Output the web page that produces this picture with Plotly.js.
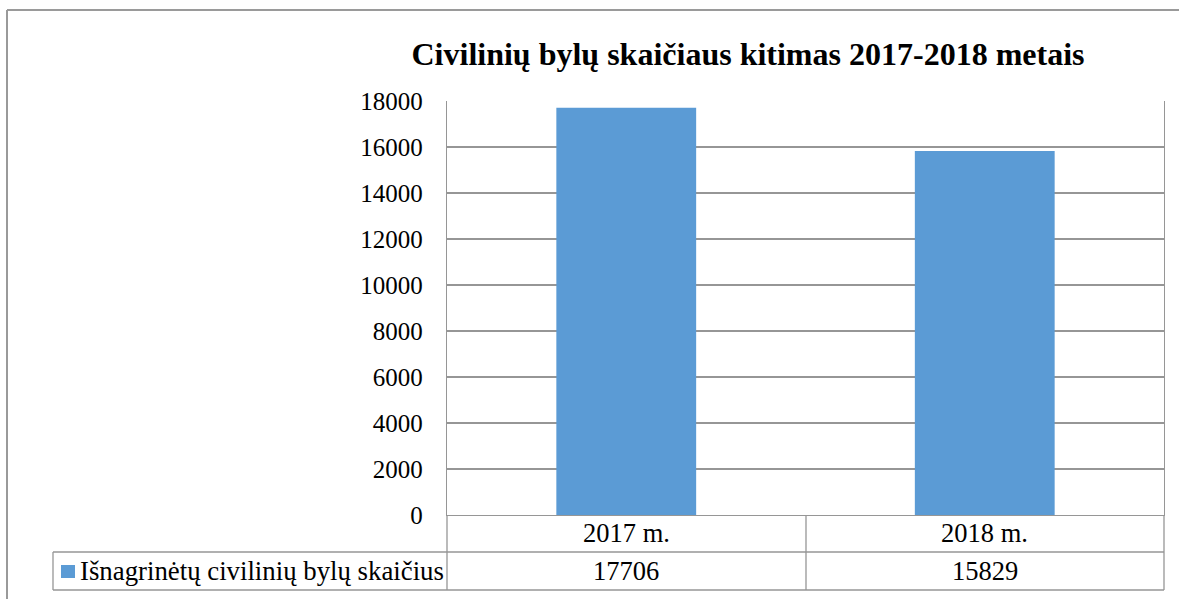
<!DOCTYPE html>
<html>
<head>
<meta charset="utf-8">
<script src="https://cdn.plot.ly/plotly-3.0.1.min.js"></script>
<style>
html,body{margin:0;padding:0;background:#fff;}
#chart{width:1179px;height:599px;}
</style>
</head>
<body>
<div id="chart"></div>
<script>
const categories = ["2017 m.", "2018 m."];
const values = [17706, 15829];
const seriesName = "Išnagrinėtų civilinių bylų skaičius";
const yTicks = [0, 2000, 4000, 6000, 8000, 10000, 12000, 14000, 16000, 18000];

const W = 1179, H = 599;
const L = 447, R = 1164, T = 101, B = 515;
const px = x => (x - L) / (R - L);
const py = y => (B - y) / (B - T);

const lineCol = "#969696";
const barCol = "#5b9bd5";
const serif = "Liberation Serif";

const trace = {
  type: "bar",
  x: categories,
  y: values,
  name: seriesName,
  marker: {color: barCol, line: {width: 0}},
  hoverinfo: "x+y"
};

function hline(y, x0, x1) {
  return {type: "line", xref: "paper", yref: "paper", x0: px(x0), x1: px(x1), y0: py(y), y1: py(y),
    line: {color: lineCol, width: 1.3}, layer: "above"};
}
function vline(x, y0, y1) {
  return {type: "line", xref: "paper", yref: "paper", x0: px(x), x1: px(x), y0: py(y0), y1: py(y1),
    line: {color: lineCol, width: 1.3}, layer: "above"};
}

const shapes = [
  {type: "line", xref: "paper", yref: "paper", x0: px(7), x1: px(1179), y0: py(10), y1: py(10), line: {color: "#9a9a9a", width: 2}},
  {type: "line", xref: "paper", yref: "paper", x0: px(7), x1: px(7), y0: py(10), y1: py(599), line: {color: "#9a9a9a", width: 2}},
  hline(552, 53, R),
  hline(590, 53, R),
  vline(53, 552, 590),
  vline(L, B, 590),
  vline(806, B, 590),
  vline(R, B, 590),
  {type: "rect", xref: "paper", yref: "paper", x0: px(61), x1: px(75), y0: py(578), y1: py(565),
    fillcolor: barCol, line: {width: 0}}
];

const tableFont = {family: serif, size: 26.5, color: "#000"};
const annotations = [
  {text: seriesName, xref: "paper", yref: "paper", x: px(78), y: py(571), xanchor: "left", yanchor: "middle",
    showarrow: false, font: {family: serif, size: 26.8, color: "#000"}}
];
values.forEach((v, i) => {
  annotations.push({text: String(v), xref: "x", yref: "paper", x: categories[i], y: py(571),
    xanchor: "center", yanchor: "middle", showarrow: false, font: tableFont});
});
categories.forEach((c, i) => {
  annotations.push({text: c, xref: "x", yref: "paper", x: c, y: py(533),
    xanchor: "center", yanchor: "middle", showarrow: false, font: tableFont});
});

const layout = {
  width: W, height: H,
  margin: {l: L, r: W - R, t: T, b: H - B, pad: 0},
  paper_bgcolor: "#fff",
  plot_bgcolor: "#fff",
  showlegend: false,
  bargap: 0.61,
  title: {
    text: "<b>Civilinių bylų skaičiaus kitimas 2017-2018 metais</b>",
    font: {family: serif, size: 32, color: "#000"},
    xref: "paper", x: px(748), xanchor: "center",
    yref: "container", y: 1 - 54 / H, yanchor: "middle"
  },
  xaxis: {
    type: "category",
    showgrid: false,
    showline: true, linecolor: lineCol, linewidth: 1.3,
    ticks: "",
    showticklabels: false,
    fixedrange: true
  },
  yaxis: {
    range: [0, 18000],
    tickvals: yTicks,
    ticktext: yTicks.map(String),
    showgrid: true, gridcolor: lineCol, gridwidth: 1.3,
    showline: true, linecolor: lineCol, linewidth: 1.3, mirror: true,
    zeroline: false,
    ticks: "",
    tickfont: {family: serif, size: 25, color: "#000"},
    ticklabelstandoff: 18,
    fixedrange: true
  },
  shapes: shapes,
  annotations: annotations
};

Plotly.newPlot("chart", [trace], layout, {displayModeBar: false, staticPlot: true});
</script>
</body>
</html>
